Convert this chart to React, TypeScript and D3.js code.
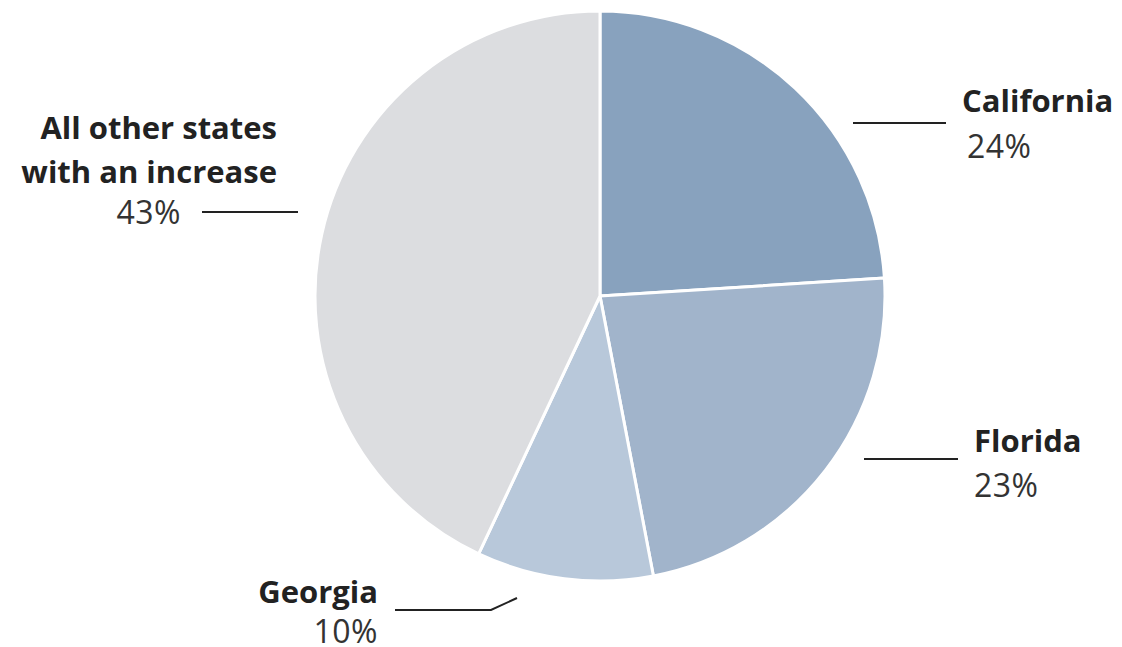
import React from "react";
import * as d3 from "d3";

const categories = ["California", "Florida", "Georgia", "All other states with an increase"];
const values = [24, 23, 10, 43];
const valueLabels = ["24%", "23%", "10%", "43%"];
const colors = ["#88a2be", "#a1b4cb", "#b8c8da", "#dcdde0"];

const W = 1122;
const H = 647;
const cx = 600;
const cy = 296;
const R = 285;

// label layout (annotation positions)
const labelLayout = [
  { anchor: "start", x: 962, y: 112, lines: ["California"], pctX: 967, pctY: 158, path: [[853, 123], [946, 123]] },
  { anchor: "start", x: 974, y: 452, lines: ["Florida"], pctX: 974, pctY: 497, path: [[864, 459], [958, 459]] },
  { anchor: "end", x: 378, y: 603, lines: ["Georgia"], pctX: 378, pctY: 643, path: [[395, 610], [491, 610], [517, 598]] },
  { anchor: "end", x: 277, y: 139, lines: ["All other states", "with an increase"], pctX: 181, pctY: 224, path: [[202, 212], [298, 212]] },
];

export default function App() {
  const pie = d3.pie<number>().sort(null).value((d) => d)(values);
  const arc = d3.arc<d3.PieArcDatum<number>>().innerRadius(0).outerRadius(R);
  const line = d3.line();
  const font = "'Open Sans', 'Noto Sans', sans-serif";
  return (
    <svg width={W} height={H} style={{ position: "absolute", left: 0, top: 0, background: "#fff" }}>
      <g transform={`translate(${cx},${cy})`}>
        {pie.map((p, i) => (
          <path key={i} d={arc(p) || ""} fill={colors[i]} stroke="#fff" strokeWidth={3} strokeLinejoin="round" />
        ))}
      </g>
      {labelLayout.map((l, i) => (
        <g key={i} fontFamily={font}>
          <path d={line(l.path as [number, number][]) || ""} fill="none" stroke="#222" strokeWidth={2} />
          {l.lines.map((t, j) => (
            <text key={j} x={l.x} y={l.y + j * 44} textAnchor={l.anchor} fontSize={31} fontWeight={700} fill="#222">
              {t}
            </text>
          ))}
          <text x={l.pctX} y={l.pctY} textAnchor={l.anchor} fontSize={32} fontWeight={400} fill="#333" letterSpacing={0.5}>
            {valueLabels[i]}
          </text>
        </g>
      ))}
    </svg>
  );
}
